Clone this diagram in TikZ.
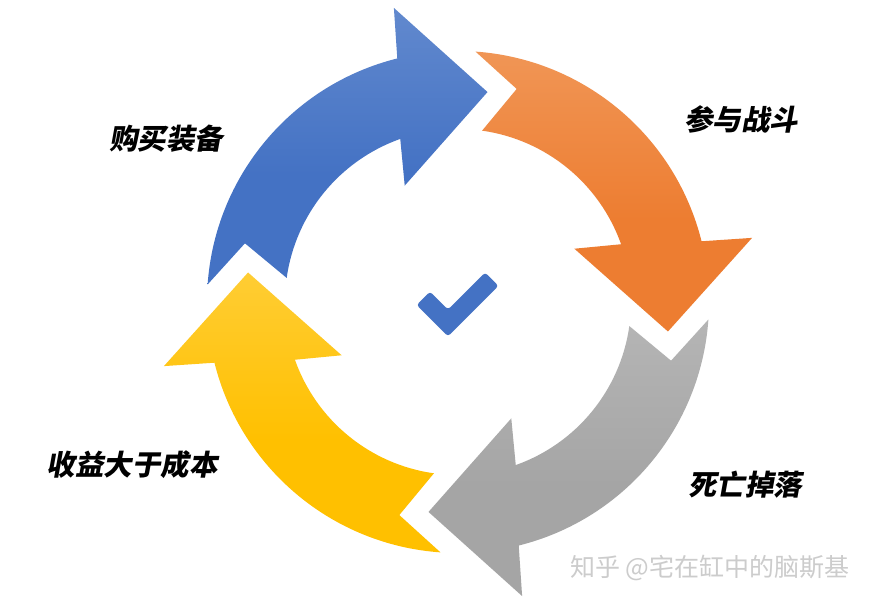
\documentclass[tikz,border=0pt]{standalone}
\usepackage{fontspec}
\newfontfamily\cjklabel{Noto Sans CJK SC}[FakeSlant=0.18]
\newfontfamily\cjkplain{Noto Sans CJK SC}
\definecolor{blueL}{HTML}{7A9CD6}
\definecolor{blueB}{HTML}{4472C4}
\definecolor{orangeL}{HTML}{F3AA74}
\definecolor{orangeB}{HTML}{ED7D31}
\definecolor{grayL}{HTML}{C2C2C2}
\definecolor{grayB}{HTML}{A5A5A5}
\definecolor{yellowL}{HTML}{FFD85F}
\definecolor{yellowB}{HTML}{FFC000}
\pgfdeclareverticalshading{blueS}{100bp}{color(0bp)=(blueB); color(45bp)=(blueB); color(100bp)=(blueL)}
\pgfdeclareverticalshading{orangeS}{100bp}{color(0bp)=(orangeB); color(45bp)=(orangeB); color(100bp)=(orangeL)}
\pgfdeclareverticalshading{grayS}{100bp}{color(0bp)=(grayB); color(45bp)=(grayB); color(100bp)=(grayL)}
\pgfdeclareverticalshading{yellowS}{100bp}{color(0bp)=(yellowB); color(45bp)=(yellowB); color(100bp)=(yellowL)}
\newcommand\cyclearrow[2]{%
  \shade[shift={(458,299)}, shading=#2]
    ({176+#1}:251) arc[start angle={176+#1}, end angle={104+#1}, radius=251]
    -- ({102.3+#1}:301) -- ({82+#1}:212) -- ({114.6+#1}:128)
    -- ({109.5+#1}:173) arc[start angle={109.5+#1}, end angle={172+#1}, radius=173]
    -- ({164.6+#1}:221) -- cycle;}
\begin{document}
\begin{tikzpicture}[x=1pt,y=1pt,
  lbl/.style={font=\cjklabel\bfseries\fontsize{28.5}{30}\selectfont, text=black, inner sep=0pt},
  wm/.style={font=\cjkplain\fontsize{25}{26}\selectfont, text=black!20, inner sep=0pt}]
\useasboundingbox (0,0) rectangle (875,601);
\fill[white] (0,0) rectangle (875,601);
\cyclearrow{0}{blueS}
\cyclearrow{-90}{orangeS}
\cyclearrow{-180}{grayS}
\cyclearrow{-270}{yellowS}
\fill[blueB, rounded corners=3pt] (448,264.6) -- (416.6,296) -- (430,309.4) -- (448,291.4)
  -- (485.1,328.5) -- (498.5,315.1) -- cycle;
\node[lbl] (buy) at (166,462) {购买装备};
\node[lbl] (fight) at (741,482) {参与战斗};
\node[lbl] (drop) at (745,116) {死亡掉落};
\node[lbl] (gain) at (132,136) {收益大于成本};
\node[wm] (mark) at (710,33) {知乎 @宅在缸中的脑斯基};
\end{tikzpicture}
\end{document}
